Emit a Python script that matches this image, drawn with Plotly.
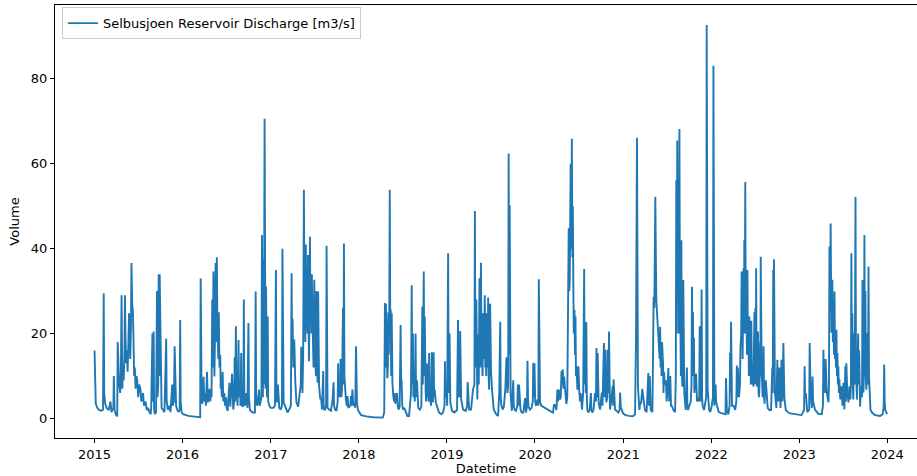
import plotly.graph_objects as go

series_2015 = [("2015-01-01",16),("2015-01-03",6),("2015-01-06",3.5),("2015-01-12",2.5),("2015-01-20",2),("2015-01-28",1.8),("2015-02-05",2),("2015-02-08",29.5),("2015-02-10",6),("2015-02-14",3.5),("2015-02-20",2.5),("2015-03-01",2),("2015-03-08",4),("2015-03-12",1.5),("2015-03-20",2.5),("2015-03-22",10),("2015-03-25",2),("2015-03-30",1),("2015-04-05",0.5),("2015-04-07",18),("2015-04-09",12),("2015-04-11",14.5),("2015-04-13",8),("2015-04-17",6),("2015-04-20",9),("2015-04-23",29),("2015-04-26",7),("2015-04-29",12),("2015-05-02",9),("2015-05-05",16),("2015-05-07",29),("2015-05-09",20),("2015-05-12",13),("2015-05-15",16),("2015-05-18",11),("2015-05-21",17),("2015-05-24",24.8),("2015-05-26",20),("2015-05-29",14),("2015-06-01",22),("2015-06-03",36.6),("2015-06-06",27),("2015-06-09",25),("2015-06-11",20),("2015-06-14",10),("2015-06-17",12),("2015-06-20",7),("2015-06-24",10),("2015-06-27",9),("2015-07-01",5),("2015-07-05",8),("2015-07-10",7),("2015-07-14",4),("2015-07-17",4.5),("2015-07-21",6),("2015-07-25",3),("2015-08-01",4),("2015-08-05",2),("2015-08-10",2.5),("2015-08-17",1.5),("2015-08-22",1),("2015-08-24",3),("2015-08-26",19.7),("2015-08-27",3),("2015-08-29",20),("2015-08-31",4),("2015-09-03",20.5),("2015-09-05",2),("2015-09-09",1),("2015-09-13",1.5),("2015-09-17",30),("2015-09-19",5),("2015-09-22",8),("2015-09-24",34),("2015-09-26",10),("2015-09-28",34),("2015-09-30",25),("2015-10-02",10),("2015-10-06",2.5),("2015-10-12",2),("2015-10-18",1.5),("2015-10-25",18.8),("2015-10-27",4),("2015-11-01",2),("2015-11-08",3),("2015-11-12",1.5),("2015-11-19",8),("2015-11-21",3),("2015-11-26",4),("2015-11-29",17),("2015-12-01",9),("2015-12-03",9.5),("2015-12-05",3),("2015-12-10",2),("2015-12-15",1.5),("2015-12-20",2),("2015-12-22",23.2),("2015-12-24",4),("2015-12-28",1.5)]

series_2016 = [("2016-01-03",1),("2016-01-12",0.8),("2016-01-25",0.6),("2016-02-10",0.5),("2016-03-01",0.4),("2016-03-14",0.3),("2016-03-16",33),("2016-03-18",12),("2016-03-20",4),("2016-03-23",3.5),("2016-03-28",9.8),("2016-03-31",4),("2016-04-03",6),("2016-04-07",3),("2016-04-11",11),("2016-04-15",3.8),("2016-04-19",5),("2016-04-22",7),("2016-04-25",4),("2016-04-27",6.5),("2016-04-30",5),("2016-05-03",28),("2016-05-05",12),("2016-05-08",34.6),("2016-05-10",20),("2016-05-12",9.9),("2016-05-15",22),("2016-05-17",36.6),("2016-05-19",18),("2016-05-22",38),("2016-05-24",24),("2016-05-26",20),("2016-05-28",14),("2016-05-30",25),("2016-06-02",12),("2016-06-05",15),("2016-06-07",7),("2016-06-09",8.4),("2016-06-12",5),("2016-06-15",11),("2016-06-18",4),("2016-06-22",6),("2016-06-25",3),("2016-06-29",5),("2016-07-02",2.5),("2016-07-06",1.8),("2016-07-13",8.4),("2016-07-17",2.8),("2016-07-24",10.5),("2016-07-29",2.1),("2016-08-02",4),("2016-08-04",14.4),("2016-08-06",4),("2016-08-09",21.7),("2016-08-11",6),("2016-08-13",6),("2016-08-16",3),("2016-08-20",18.5),("2016-08-22",5),("2016-08-26",9),("2016-08-28",3),("2016-08-31",15.4),("2016-09-02",4),("2016-09-05",2.8),("2016-09-09",3),("2016-09-11",28),("2016-09-13",6),("2016-09-16",3),("2016-09-22",6),("2016-09-26",2.5),("2016-09-30",22.5),("2016-10-02",5),("2016-10-06",2),("2016-10-12",1.5),("2016-10-17",1.4),("2016-10-27",1.4),("2016-10-30",29.9),("2016-11-01",6),("2016-11-05",3),("2016-11-10",4),("2016-11-13",6.8),("2016-11-16",3),("2016-11-20",3.8),("2016-11-23",5),("2016-11-25",43.2),("2016-11-27",10),("2016-11-29",5),("2016-12-01",37.5),("2016-12-03",8),("2016-12-06",70.6),("2016-12-08",44),("2016-12-10",7),("2016-12-12",31),("2016-12-14",7),("2016-12-16",5),("2016-12-19",24),("2016-12-21",4),("2016-12-26",3),("2016-12-31",2.5)]

series_2017 = [("2017-01-06",2.5),("2017-01-12",2.5),("2017-01-18",3),("2017-01-22",35),("2017-01-24",6),("2017-01-26",3.8),("2017-01-30",8),("2017-02-02",3),("2017-02-05",2.5),("2017-02-11",2.1),("2017-02-16",3),("2017-02-18",40),("2017-02-20",8),("2017-02-23",3.8),("2017-03-02",2.8),("2017-03-11",1.4),("2017-03-18",2.1),("2017-03-25",3),("2017-03-28",34.2),("2017-03-30",15),("2017-04-01",23.5),("2017-04-04",12),("2017-04-08",18.6),("2017-04-12",9),("2017-04-17",3.8),("2017-04-24",2.8),("2017-05-01",6),("2017-05-05",8),("2017-05-07",16.9),("2017-05-10",8),("2017-05-12",6),("2017-05-15",15),("2017-05-18",53.9),("2017-05-20",30),("2017-05-22",29),("2017-05-24",18),("2017-05-26",41),("2017-05-28",22),("2017-05-30",25),("2017-06-02",20),("2017-06-04",38.5),("2017-06-06",24),("2017-06-08",13.5),("2017-06-10",25),("2017-06-12",42.8),("2017-06-14",25),("2017-06-16",31),("2017-06-18",20),("2017-06-20",34),("2017-06-22",25),("2017-06-24",20),("2017-06-27",12),("2017-06-30",32.7),("2017-07-02",15),("2017-07-04",13.5),("2017-07-07",10),("2017-07-09",30),("2017-07-11",12),("2017-07-14",8.4),("2017-07-16",29.9),("2017-07-18",12),("2017-07-20",7.6),("2017-07-25",4.5),("2017-07-28",5),("2017-08-01",2.1),("2017-08-06",11.2),("2017-08-08",3),("2017-08-10",2.1),("2017-08-14",2.1),("2017-08-18",3),("2017-08-20",40.7),("2017-08-22",6),("2017-08-24",2.5),("2017-08-31",2.1),("2017-09-07",1.8),("2017-09-14",4.5),("2017-09-18",8.5),("2017-09-20",3),("2017-09-24",2.1),("2017-09-30",1.8),("2017-10-05",4),("2017-10-07",13),("2017-10-09",5),("2017-10-12",7.6),("2017-10-15",5),("2017-10-17",14),("2017-10-20",5),("2017-10-23",6.8),("2017-10-27",26),("2017-10-29",8),("2017-10-31",41.2),("2017-11-02",10),("2017-11-04",6.8),("2017-11-08",4.5),("2017-11-12",3),("2017-11-15",5.3),("2017-11-18",2.5),("2017-11-22",2.8),("2017-11-26",3),("2017-11-29",5.3),("2017-12-02",3),("2017-12-05",6.8),("2017-12-09",3),("2017-12-12",3.8),("2017-12-17",2.5),("2017-12-20",17),("2017-12-22",6),("2017-12-24",3.8),("2017-12-28",2)]

series_2018 = [("2018-01-03",1.4),("2018-01-10",0.8),("2018-02-01",0.5),("2018-03-01",0.3),("2018-04-10",0.2),("2018-04-16",1.4),("2018-04-19",27.2),("2018-04-21",12),("2018-04-23",27),("2018-04-25",15),("2018-04-29",9.5),("2018-05-01",12),("2018-05-03",25),("2018-05-05",15),("2018-05-07",25),("2018-05-09",53.9),("2018-05-11",20),("2018-05-13",25.6),("2018-05-15",10),("2018-05-17",24.8),("2018-05-20",8.4),("2018-05-22",6),("2018-05-24",5),("2018-05-27",4),("2018-05-29",6),("2018-06-01",3.5),("2018-06-03",4.5),("2018-06-08",6),("2018-06-11",3),("2018-06-14",2.1),("2018-06-19",2.8),("2018-06-23",22),("2018-06-25",9),("2018-06-27",9),("2018-06-30",3),("2018-07-03",2.1),("2018-07-08",2.5),("2018-07-14",1.4),("2018-07-21",0.6),("2018-07-28",0.6),("2018-08-02",4.5),("2018-08-05",6),("2018-08-08",31.4),("2018-08-10",8),("2018-08-13",20),("2018-08-15",5),("2018-08-19",6.8),("2018-08-21",4),("2018-08-24",20),("2018-08-26",5),("2018-08-30",9),("2018-09-04",2.5),("2018-09-11",2.1),("2018-09-17",2.8),("2018-09-21",26.4),("2018-09-23",8),("2018-09-27",34.6),("2018-09-29",10),("2018-10-01",24),("2018-10-03",8),("2018-10-05",6),("2018-10-07",4),("2018-10-09",13),("2018-10-12",5),("2018-10-15",12.7),("2018-10-17",4),("2018-10-19",15.4),("2018-10-21",5),("2018-10-24",4.5),("2018-10-27",3),("2018-10-30",15.6),("2018-11-01",5),("2018-11-04",3.8),("2018-11-07",15.6),("2018-11-09",5),("2018-11-11",6.8),("2018-11-16",3.8),("2018-11-23",2.1),("2018-11-29",1.4),("2018-12-08",1),("2018-12-16",1.4),("2018-12-22",3),("2018-12-24",13.5),("2018-12-26",5),("2018-12-30",6.8)]

series_2019 = [("2019-01-02",3),("2019-01-06",38.9),("2019-01-08",6),("2019-01-12",20),("2019-01-15",3.8),("2019-01-22",1.8),("2019-02-01",1.4),("2019-02-12",2),("2019-02-16",23.2),("2019-02-18",5),("2019-02-20",12.3),("2019-02-23",5),("2019-02-25",20.6),("2019-03-01",4.5),("2019-03-09",2.1),("2019-03-20",1.8),("2019-03-26",3),("2019-03-28",8.6),("2019-04-03",2.1),("2019-04-11",2.1),("2019-04-19",6.8),("2019-04-25",8),("2019-04-27",48.9),("2019-04-29",12),("2019-05-03",28),("2019-05-07",4.5),("2019-05-11",19.7),("2019-05-13",8),("2019-05-16",33),("2019-05-19",12),("2019-05-22",36.7),("2019-05-24",18),("2019-05-26",15.4),("2019-05-29",10),("2019-05-31",24.8),("2019-06-03",14),("2019-06-07",29),("2019-06-09",12),("2019-06-11",15.4),("2019-06-13",10),("2019-06-15",24.8),("2019-06-18",12),("2019-06-21",28.5),("2019-06-23",10),("2019-06-25",6.8),("2019-06-29",27),("2019-07-01",12),("2019-07-03",11),("2019-07-07",6.8),("2019-07-10",4),("2019-07-14",2.1),("2019-07-24",1),("2019-08-01",0.6),("2019-08-06",6.1),("2019-08-10",22.8),("2019-08-12",5),("2019-08-15",3),("2019-08-20",2.1),("2019-08-25",2.8),("2019-08-31",6.8),("2019-09-05",14.4),("2019-09-09",6),("2019-09-12",8),("2019-09-14",62.4),("2019-09-16",15),("2019-09-18",50.2),("2019-09-20",12),("2019-09-22",6),("2019-09-27",1.8),("2019-10-03",9),("2019-10-05",3),("2019-10-08",2.1),("2019-10-14",1.8),("2019-10-20",3),("2019-10-22",8),("2019-10-24",3),("2019-10-27",8),("2019-11-02",2.1),("2019-11-07",1.4),("2019-11-14",1.4),("2019-11-21",4.8),("2019-11-25",1.4),("2019-11-29",3),("2019-12-01",13.6),("2019-12-03",5),("2019-12-05",2.8),("2019-12-11",2.1),("2019-12-18",2.5),("2019-12-23",4),("2019-12-25",13.1),("2019-12-27",5),("2019-12-30",13)]

series_2020 = [("2020-01-02",4),("2020-01-05",3),("2020-01-12",4.5),("2020-01-15",3),("2020-01-17",32.8),("2020-01-19",8),("2020-01-22",3.8),("2020-01-28",3),("2020-02-10",2.5),("2020-02-24",2),("2020-03-08",1.6),("2020-03-16",1.4),("2020-03-20",3.3),("2020-03-26",3),("2020-03-30",2),("2020-04-03",6.8),("2020-04-06",4),("2020-04-09",6.8),("2020-04-14",4.5),("2020-04-17",5),("2020-04-20",11.2),("2020-04-22",8),("2020-04-25",11.6),("2020-04-28",7),("2020-05-01",9.9),("2020-05-04",7.6),("2020-05-10",3.4),("2020-05-14",5),("2020-05-17",28),("2020-05-20",44.8),("2020-05-22",30),("2020-05-24",32),("2020-05-26",45),("2020-05-28",60),("2020-05-31",40),("2020-06-02",65.9),("2020-06-04",38),("2020-06-06",50),("2020-06-08",32),("2020-06-10",20),("2020-06-13",25.6),("2020-06-15",15),("2020-06-17",24),("2020-06-19",10),("2020-06-21",12.3),("2020-06-25",6.8),("2020-06-29",12.3),("2020-07-03",6),("2020-07-06",4),("2020-07-09",6),("2020-07-14",2.1),("2020-07-19",6),("2020-07-23",35.2),("2020-07-25",8),("2020-07-27",20.2),("2020-07-30",6),("2020-08-01",22.7),("2020-08-03",5),("2020-08-05",2.1),("2020-08-09",1.4),("2020-08-15",2.1),("2020-08-20",6),("2020-08-22",2),("2020-08-26",1.4),("2020-08-31",2.1),("2020-09-06",6),("2020-09-10",4),("2020-09-12",16.6),("2020-09-14",5),("2020-09-17",15.4),("2020-09-21",3.8),("2020-09-27",2.1),("2020-10-04",6.1),("2020-10-07",3),("2020-10-09",7.6),("2020-10-13",17.8),("2020-10-15",5),("2020-10-19",16.2),("2020-10-23",3.8),("2020-10-27",5),("2020-10-29",16.2),("2020-11-01",6),("2020-11-03",20.5),("2020-11-07",2.1),("2020-11-13",4.5),("2020-11-18",7.6),("2020-11-20",3),("2020-11-22",9.2),("2020-11-28",2.1),("2020-12-05",1.8),("2020-12-12",1.4),("2020-12-17",2),("2020-12-19",6.1),("2020-12-22",2.5),("2020-12-26",2.1),("2020-12-31",1.2)]

series_2021 = [("2021-01-10",0.8),("2021-01-25",0.6),("2021-02-10",0.5),("2021-02-19",1),("2021-02-23",19.3),("2021-02-27",66.1),("2021-03-01",20),("2021-03-03",7.6),("2021-03-09",2),("2021-03-13",4),("2021-03-16",3.5),("2021-03-21",7),("2021-03-25",5),("2021-04-01",2),("2021-04-08",1.5),("2021-04-15",10.7),("2021-04-18",3),("2021-04-21",10),("2021-04-25",2),("2021-05-02",1.5),("2021-05-07",28.7),("2021-05-10",26),("2021-05-14",52.2),("2021-05-16",30),("2021-05-18",28),("2021-05-21",25),("2021-05-25",21.6),("2021-05-29",17),("2021-06-01",14),("2021-06-03",21.6),("2021-06-05",12),("2021-06-07",17),("2021-06-09",10),("2021-06-11",18),("2021-06-15",13),("2021-06-17",6),("2021-06-19",11),("2021-06-23",8),("2021-06-27",9),("2021-06-30",4),("2021-07-03",6),("2021-07-07",11.9),("2021-07-11",4),("2021-07-15",10),("2021-07-18",3),("2021-07-21",3),("2021-07-28",2),("2021-08-04",1.5),("2021-08-07",10),("2021-08-09",56.1),("2021-08-11",20),("2021-08-13",65.5),("2021-08-15",30),("2021-08-18",46),("2021-08-20",20),("2021-08-22",68.2),("2021-08-24",25),("2021-08-26",22),("2021-08-28",10),("2021-08-30",42),("2021-09-01",12),("2021-09-03",7.5),("2021-09-07",32.6),("2021-09-09",8),("2021-09-11",6),("2021-09-17",2),("2021-09-22",12),("2021-09-24",3),("2021-09-27",2),("2021-10-02",3),("2021-10-08",4),("2021-10-11",8),("2021-10-13",31),("2021-10-15",15),("2021-10-17",25),("2021-10-19",10),("2021-10-21",19),("2021-10-23",6),("2021-10-26",7.5),("2021-10-30",10.5),("2021-11-03",4),("2021-11-09",5),("2021-11-12",4),("2021-11-14",21.7),("2021-11-16",5),("2021-11-18",5),("2021-11-20",4),("2021-11-22",30.4),("2021-11-24",5),("2021-11-26",3),("2021-12-02",2),("2021-12-06",3),("2021-12-11",5),("2021-12-13",92.7),("2021-12-15",20),("2021-12-17",7),("2021-12-23",2),("2021-12-28",1.5)]

series_2022 = [("2022-01-03",3),("2022-01-08",5),("2022-01-10",83.1),("2022-01-12",15),("2022-01-14",3),("2022-01-19",8),("2022-01-21",4),("2022-01-25",3),("2022-02-01",1.5),("2022-02-15",1.2),("2022-03-01",1),("2022-03-03",9.5),("2022-03-05",2),("2022-03-07",1.5),("2022-03-13",1),("2022-03-18",3),("2022-03-20",15.5),("2022-03-22",6),("2022-03-24",22.8),("2022-03-26",8),("2022-03-28",3),("2022-04-03",3),("2022-04-10",2),("2022-04-15",4),("2022-04-17",12.5),("2022-04-19",5),("2022-04-21",12),("2022-04-26",5),("2022-04-30",8),("2022-05-02",17),("2022-05-05",19.5),("2022-05-07",34.6),("2022-05-09",18),("2022-05-11",14),("2022-05-13",25),("2022-05-15",35.4),("2022-05-17",20),("2022-05-18",42),("2022-05-20",25),("2022-05-22",55.7),("2022-05-24",20),("2022-05-27",26),("2022-05-29",15),("2022-05-31",35),("2022-06-02",15),("2022-06-04",21),("2022-06-06",10),("2022-06-08",24),("2022-06-10",10),("2022-06-12",18),("2022-06-14",8),("2022-06-16",23),("2022-06-19",8),("2022-06-21",11),("2022-06-25",7.5),("2022-06-29",25),("2022-07-01",8),("2022-07-03",26),("2022-07-05",10),("2022-07-06",35.4),("2022-07-08",10),("2022-07-10",7.5),("2022-07-14",20.5),("2022-07-16",6),("2022-07-18",5),("2022-07-21",10),("2022-07-23",18),("2022-07-24",10),("2022-07-25",38.1),("2022-07-27",15),("2022-07-29",11),("2022-08-02",5),("2022-08-06",17),("2022-08-08",5),("2022-08-10",3.5),("2022-08-15",9),("2022-08-19",6),("2022-08-23",2.5),("2022-08-30",2),("2022-09-06",2),("2022-09-11",12),("2022-09-13",6),("2022-09-15",35),("2022-09-16",10),("2022-09-18",37.5),("2022-09-20",12),("2022-09-22",6),("2022-09-28",2.5),("2022-10-02",13.8),("2022-10-04",5),("2022-10-06",4),("2022-10-10",12),("2022-10-12",4),("2022-10-15",2.5),("2022-10-19",13.8),("2022-10-21",5),("2022-10-23",4),("2022-10-27",17.8),("2022-10-29",6),("2022-10-31",5),("2022-11-06",2),("2022-11-14",1.5),("2022-11-24",1.2),("2022-12-15",1),("2022-12-29",0.8)]

series_2023 = [("2023-01-10",0.8),("2023-01-21",2),("2023-01-23",12.3),("2023-01-25",5),("2023-01-28",6),("2023-02-03",1.5),("2023-02-11",2),("2023-02-13",17.8),("2023-02-15",6),("2023-02-17",6),("2023-02-22",2.5),("2023-02-25",9.9),("2023-02-27",4),("2023-03-01",3.4),("2023-03-07",2.1),("2023-03-21",1.1),("2023-04-04",1),("2023-04-09",3),("2023-04-11",16.2),("2023-04-13",8),("2023-04-15",12.3),("2023-04-18",6),("2023-04-20",14),("2023-04-25",6.1),("2023-05-02",3.8),("2023-05-04",8),("2023-05-06",40.5),("2023-05-08",25),("2023-05-11",45.9),("2023-05-14",20.2),("2023-05-16",25),("2023-05-18",32.7),("2023-05-20",18),("2023-05-22",24),("2023-05-25",15),("2023-05-27",29.9),("2023-05-29",14),("2023-05-31",17.8),("2023-06-02",12),("2023-06-04",20.9),("2023-06-06",10),("2023-06-08",15.4),("2023-06-10",8),("2023-06-12",12.3),("2023-06-14",6),("2023-06-16",9.2),("2023-06-20",4.5),("2023-06-25",7.6),("2023-06-29",3),("2023-07-03",8.4),("2023-07-07",2.1),("2023-07-11",12.3),("2023-07-13",4),("2023-07-15",13),("2023-07-19",6.1),("2023-07-24",3.8),("2023-07-28",7.6),("2023-08-01",4.5),("2023-08-03",8),("2023-08-05",38.9),("2023-08-07",12),("2023-08-09",24.8),("2023-08-11",8),("2023-08-13",4.5),("2023-08-17",20.2),("2023-08-19",8),("2023-08-22",52.2),("2023-08-24",12.3),("2023-08-28",4.5),("2023-09-02",20),("2023-09-04",8),("2023-09-06",16),("2023-09-10",2.8),("2023-09-14",7.6),("2023-09-18",5),("2023-09-20",32.6),("2023-09-22",8),("2023-09-24",6.1),("2023-09-26",10),("2023-09-28",43.2),("2023-09-30",12),("2023-10-02",30),("2023-10-04",10),("2023-10-06",6.8),("2023-10-09",10),("2023-10-11",20.2),("2023-10-13",8),("2023-10-15",35.8),("2023-10-17",10),("2023-10-19",7.6),("2023-10-23",2.1),("2023-10-29",1.4),("2023-11-11",0.8),("2023-12-02",0.6),("2023-12-13",1),("2023-12-17",3),("2023-12-19",12.7),("2023-12-21",4),("2023-12-23",2.1),("2023-12-31",1)]

year_ticks = [str(y) for y in range(2015, 2025)]
y_ticks = [0, 20, 40, 60, 80]
series_name = "Selbusjoen Reservoir Discharge [m3/s]"

all_series = (series_2015 + series_2016 + series_2017 + series_2018 + series_2019 +
              series_2020 + series_2021 + series_2022 + series_2023)
dates = [d for d, v in all_series]
values = [v for d, v in all_series]

fig = go.Figure()
fig.add_trace(go.Scatter(x=dates, y=values, mode="lines", name=series_name,
                         line=dict(color="#1f77b4", width=1.9), showlegend=True))

axis_style = dict(showline=True, linecolor="black", linewidth=1,
                  ticks="outside", ticklen=4, tickcolor="black", tickwidth=1,
                  showgrid=False, zeroline=False,
                  tickfont=dict(family="DejaVu Sans", size=13, color="black"))

fig.update_layout(
    width=917, height=476,
    margin=dict(l=55, r=0, t=5, b=38),
    paper_bgcolor="white", plot_bgcolor="white",
    font=dict(family="DejaVu Sans", size=13, color="black"),
    xaxis=dict(type="date", range=["2014-07-21", "2024-05-03"],
               tickvals=[f"{y}-01-01" for y in year_ticks], ticktext=year_ticks,
               title=dict(text="Datetime", standoff=4, font=dict(size=13)),
               automargin=False, mirror=True, **axis_style),
    yaxis=dict(range=[-4.6, 97.4], tickvals=y_ticks, ticktext=[str(t) for t in y_ticks],
               title=dict(text="Volume", standoff=8, font=dict(size=13)),
               automargin=False, mirror=False, **axis_style),
    legend=dict(x=0.008, y=0.995, xanchor="left", yanchor="top",
                bordercolor="#cccccc", borderwidth=1, bgcolor="rgba(255,255,255,0.8)",
                font=dict(family="DejaVu Sans", size=13, color="black"),
                itemwidth=30),
    showlegend=True,
)

fig.write_html("out.html")
